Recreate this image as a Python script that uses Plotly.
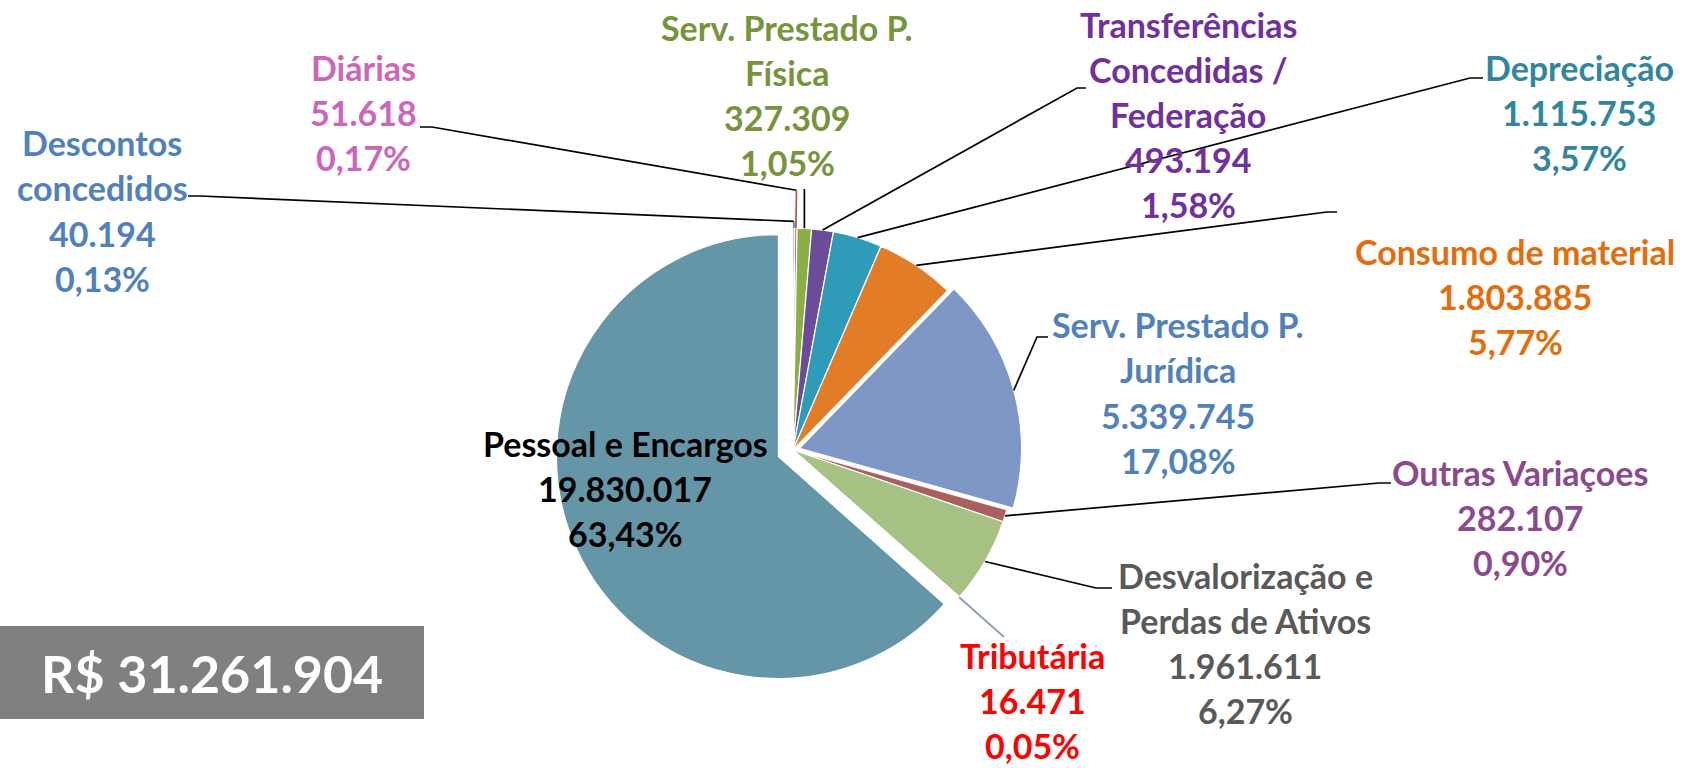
import math
import plotly.graph_objects as go

W, H = 1683, 768

# ---------------- data ----------------
categories = [
    "Descontos concedidos", "Diárias", "Serv. Prestado P. Física",
    "Transferências Concedidas / Federação", "Depreciação", "Consumo de material",
    "Serv. Prestado P. Jurídica", "Outras Variaçoes",
    "Desvalorização e Perdas de Ativos", "Tributária", "Pessoal e Encargos",
]
values = [40194, 51618, 327309, 493194, 1115753, 1803885,
          5339745, 282107, 1961611, 16471, 19830017]
name_lines = [
    ["Descontos", "concedidos"], ["Diárias"], ["Serv. Prestado P.", "Física"],
    ["Transferências", "Concedidas /", "Federação"], ["Depreciação"],
    ["Consumo de material"], ["Serv. Prestado P.", "Jurídica"],
    ["Outras Variaçoes"], ["Desvalorização e", "Perdas de Ativos"],
    ["Tributária"], ["Pessoal e Encargos"],
]
total_label = "R$ 31.261.904"

# ---------------- styles ----------------
slice_colors = ["#4f81bd", "#c0504d", "#8aaf45", "#6b4c98", "#2e9bb8", "#e37c26",
                "#7e97c6", "#a9605e", "#a5c183", "#8a9bb5", "#6496a7"]
text_colors = ["#4f81bd", "#cc66bb", "#77933c", "#7030a0", "#31859c", "#e46c0a",
               "#4f81bd", "#8b4a8e", "#595959", "#ff0000", "#000000"]
pulls = [0, 0, 0, 0, 0, 0, 0.03, 0, 0, 0, 0.072]
# label placement (px): centre x, first line y
label_pos = [(102, 143), (363, 67), (787, 27), (1188, 24), (1579, 68), (1515, 251),
             (1178, 325), (1520, 472), (1245, 575), (1032, 655), (625, 443)]
# leader-line anchor at label side (px): elbow start, elbow end
leader_anchor = [((188, 196), (200, 196)), ((420, 127), (432, 127)), "vertical",
                 ((1086, 88), (1077, 88)), ((1483, 78), (1470, 78)),
                 ((1337, 212), (1327, 212)), ((1048, 337), (1037, 337)),
                 ((1391, 483), (1379, 483)), ((1112, 588), (1096, 588)),
                 "radial", None]
LINE_STEP = 45
FONT = "Lato, 'Open Sans', sans-serif"
FSIZE = 34

CX, CY, R = 793, 450, 222  # pie centre / radius in px
maxpull = max(pulls)
half = R * (1 + maxpull)


def px(x):
    return x / W


def py(y):
    return 1 - y / H


total = sum(values)

fig = go.Figure(go.Pie(
    labels=categories, values=values, sort=False, direction="clockwise",
    rotation=0, pull=pulls, textinfo="none", textposition="none",
    marker=dict(colors=slice_colors, line=dict(color="white", width=1.2)),
    domain=dict(x=[px(CX - half), px(CX + half)], y=[py(CY + half), py(CY - half)]),
    showlegend=False, hoverinfo="label+value+percent",
))

annotations = []
shapes = []


def seg(points, color):
    d = "M " + " L ".join(f"{px(x)} {py(y)}" for x, y in points)
    shapes.append(dict(type="path", path=d, xref="paper", yref="paper",
                       line=dict(color=color, width=1.7)))


cum = 0
for i, v in enumerate(values):
    frac = v / total
    mid = (cum + frac / 2) * 2 * math.pi
    cum += frac
    val_txt = f"{v:,}".replace(",", ".")
    pct_txt = f"{frac * 100:.2f}%".replace(".", ",")
    lines = name_lines[i] + [val_txt, pct_txt]
    lx, ly = label_pos[i]
    for k, t in enumerate(lines):
        annotations.append(dict(
            x=px(lx), y=py(ly + k * LINE_STEP), xref="paper", yref="paper",
            text=t, showarrow=False, xanchor="center", yanchor="middle",
            font=dict(family=FONT, size=FSIZE, color=text_colors[i], weight="bold"),
        ))
    # leader lines
    la = leader_anchor[i]
    if la is None:
        continue
    rr = R * (1 + pulls[i])
    ex = CX + rr * math.sin(mid)
    ey = CY - rr * math.cos(mid)
    if la == "vertical":
        seg([(ex, ey), (ex, 189)], "black")
    elif la == "radial":
        fx = CX + 1.27 * R * math.sin(mid)
        fy = CY - 1.27 * R * math.cos(mid)
        seg([(ex, ey), (fx, fy)], "#8a9bb5")
    else:
        (ax, ay), (bx, by) = la
        if i in (0, 1):
            kr = 1.03 if i == 0 else 1.17
            kx = CX + kr * R * math.sin(mid)
            ky = CY - kr * R * math.cos(mid)
            seg([(ax, ay), (bx, by), (kx, ky)], "black")
            seg([(kx, ky), (ex, ey)], slice_colors[i])
        else:
            seg([(ax, ay), (bx, by), (ex, ey)], "black")

# total box
shapes.append(dict(type="rect", xref="paper", yref="paper",
                   x0=px(0), x1=px(424), y0=py(719), y1=py(626),
                   fillcolor="#808080", line=dict(width=0), layer="above"))
annotations.append(dict(x=px(212), y=py(673), xref="paper", yref="paper",
                        text=total_label, showarrow=False, xanchor="center",
                        yanchor="middle",
                        font=dict(family=FONT, size=52, color="white", weight="bold")))

fig.update_layout(
    width=W, height=H, margin=dict(l=0, r=0, t=0, b=0),
    paper_bgcolor="white", plot_bgcolor="white",
    annotations=annotations, shapes=shapes,
)

fig.write_html("out.html", config={"displayModeBar": False},
               post_script="document.body.style.margin='0';document.body.style.overflow='hidden';")
